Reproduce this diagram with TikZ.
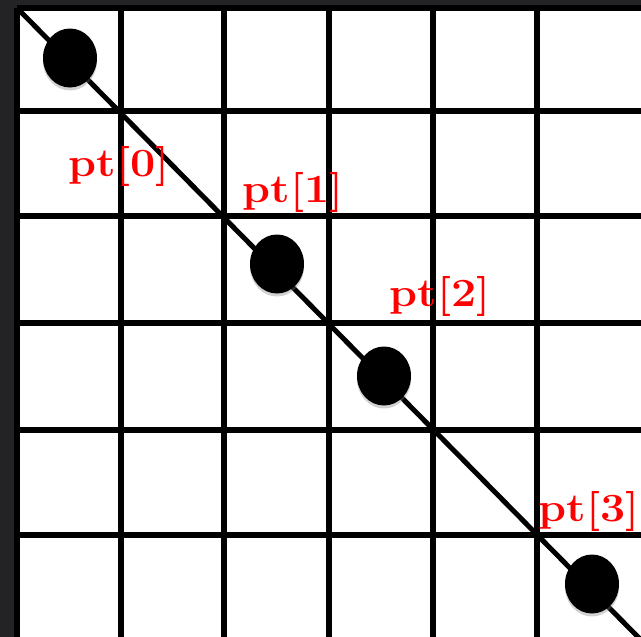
\documentclass[tikz,border=0pt]{standalone}
\usepackage{fontspec}
\usetikzlibrary{shapes.geometric,shadows}

\definecolor{frame}{RGB}{35,35,38}

\begin{document}
\begin{tikzpicture}[
    x=1pt, y=-1pt,
    gridline/.style={line width=5.5pt, black},
    diag/.style={line width=5pt, black},
    dot/.style={
        ellipse,
        fill=black,
        inner sep=0pt,
        minimum width=54pt,
        minimum height=59pt,
        drop shadow={opacity=0.35, shadow xshift=0pt, shadow yshift=-3pt}
    },
    ptlabel/.style={
        text=red,
        inner sep=0pt,
        font=\fontsize{40}{40}\selectfont\bfseries\addfontfeatures{FakeBold=3}
    }
]

% background and board
\fill[frame] (0,0) rectangle (641,637);
\fill[white] (17,8) rectangle (641,637);
\useasboundingbox (0,0) rectangle (641,637);

% grid
\foreach \gx in {17,121,224,329,433,537}
    \draw[gridline] (\gx,8) -- (\gx,637);
\foreach \gy in {8,111,216,323,430,535}
    \draw[gridline] (17,\gy) -- (641,\gy);

% diagonal
\coordinate (start) at (17,8);
\coordinate (stop) at (641,640);
\begin{scope}
    \clip (17,6) rectangle (641,637);
    \draw[diag] (start) -- (stop);
\end{scope}

% points
\node[dot] (dot0) at (70,58) {};
\node[dot] (dot1) at (277,264) {};
\node[dot] (dot2) at (384,376) {};
\node[dot] (dot3) at (592,584) {};

% labels
\node[ptlabel] (lbl0) at (119,166) {\scalebox{1.12}[1]{pt[0]}};
\node[ptlabel] (lbl1) at (293,192) {\scalebox{1.12}[1]{pt[1]}};
\node[ptlabel] (lbl2) at (440,296) {\scalebox{1.12}[1]{pt[2]}};
\node[ptlabel] (lbl3) at (589,511) {\scalebox{1.12}[1]{pt[3]}};

\end{tikzpicture}
\end{document}
